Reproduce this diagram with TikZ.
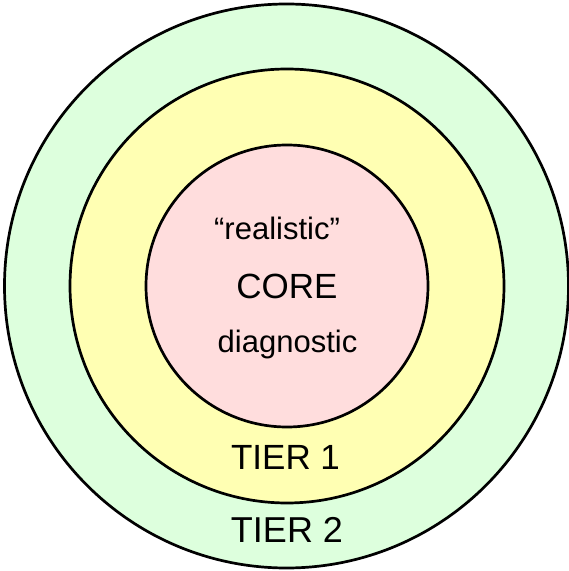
\documentclass[tikz,border=0pt]{standalone}
\usepackage{fontspec}
\setmainfont{Liberation Sans}
\definecolor{tiertwo}{HTML}{DDFFDD}
\definecolor{tierone}{HTML}{FFFFB3}
\definecolor{corefill}{HTML}{FFDDDD}
\begin{document}
\begin{tikzpicture}[x=1pt,y=1pt,
  ring/.style={circle,draw=black,line width=2.7pt,inner sep=0pt},
  lbl/.style={anchor=base,inner sep=0pt}]
\useasboundingbox (0,0) rectangle (569,571);
\node[ring,fill=tiertwo,minimum size=564pt] (t2) at (286.5,285) {};
\node[ring,fill=tierone,minimum size=434pt] (t1) at (287,285) {};
\node[ring,fill=corefill,minimum size=282pt] (core) at (287,285) {};
\node[lbl,font=\fontsize{31}{31}\selectfont] (real) at (277,331) {“realistic”};
\node[lbl,font=\fontsize{35}{35}\selectfont] (coretxt) at (287,272) {CORE};
\node[lbl,font=\fontsize{31}{31}\selectfont] (diag) at (287.5,218) {diagnostic};
\node[lbl,font=\fontsize{35}{35}\selectfont] (tier1) at (285.5,101) {TIER 1};
\node[lbl,font=\fontsize{36}{36}\selectfont] (tier2) at (287,28) {TIER 2};
\end{tikzpicture}
\end{document}
